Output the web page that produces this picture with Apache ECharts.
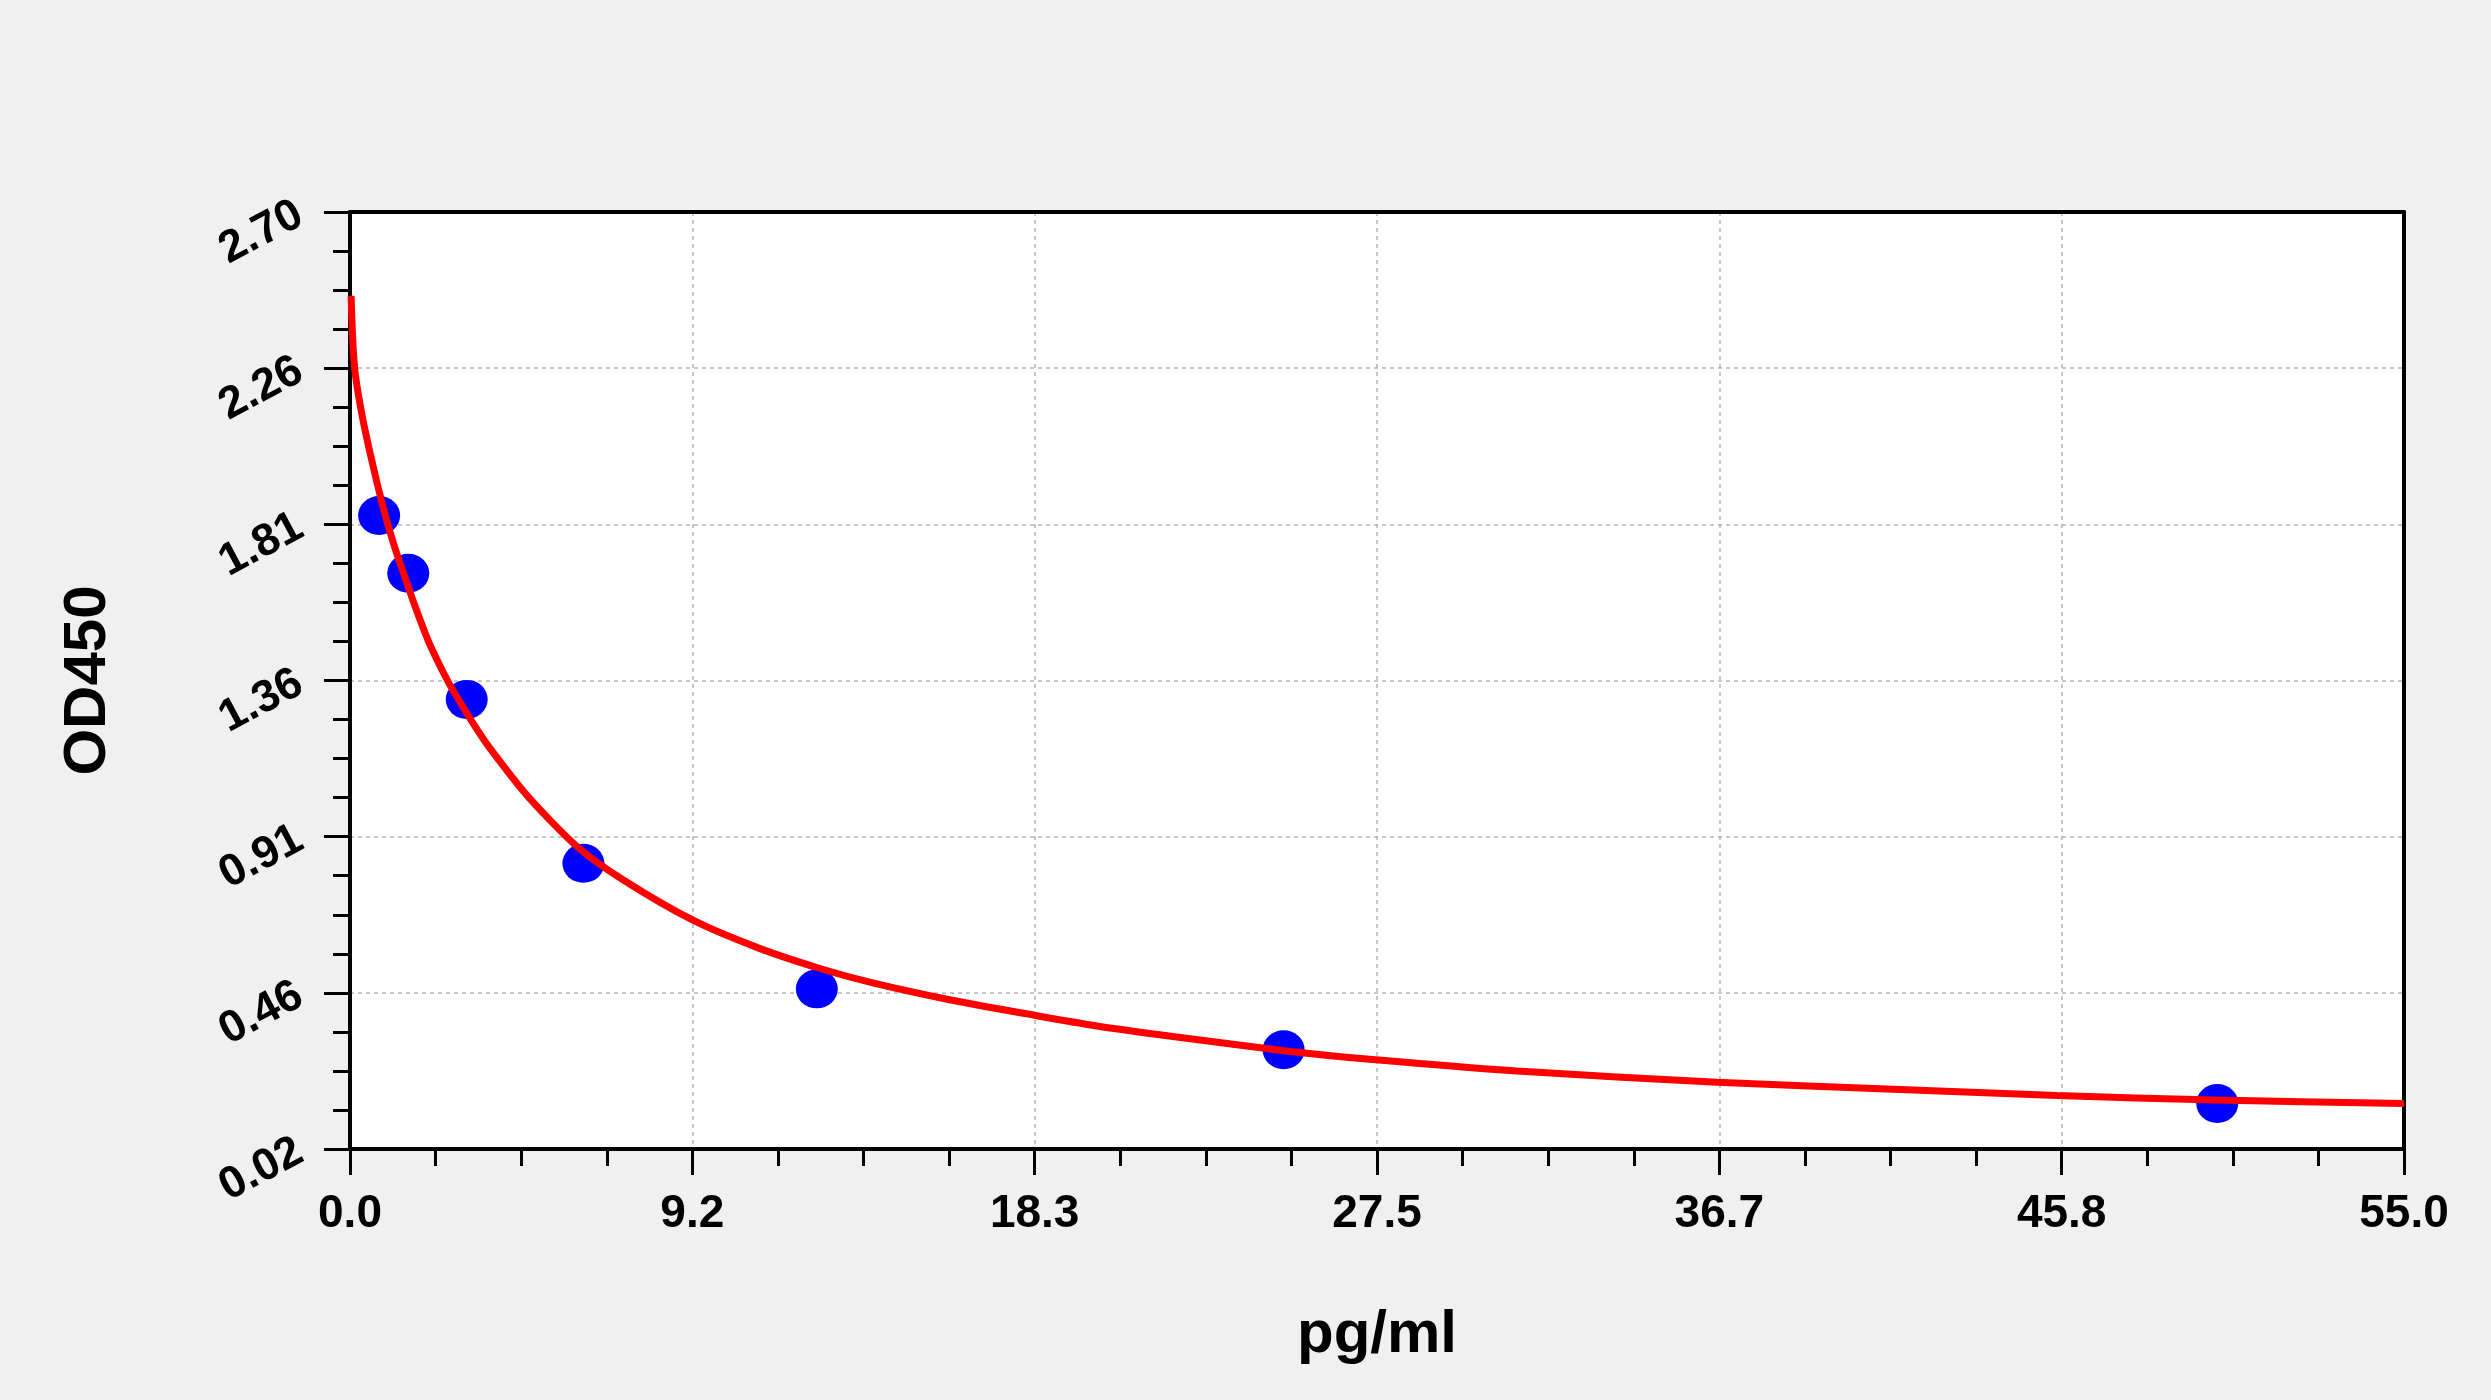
<!DOCTYPE html>
<html>
<head>
<meta charset="utf-8">
<title>OD450 standard curve</title>
<script src="https://cdn.jsdelivr.net/npm/echarts@6/dist/echarts.min.js"></script>
<style>
    html, body { margin: 0; padding: 0; background: #f0f0f0; }
    #chart { width: 2491px; height: 1400px; }
</style>
</head>
<body>
<div id="chart"></div>
<script>
// standard points (pg/ml -> OD450)
const stdConc = [0.78, 1.56, 3.125, 6.25, 12.5, 25, 50];
const stdOD = [1.832, 1.667, 1.306, 0.837, 0.478, 0.304, 0.150];

// fitted curve
const fitConc = [0.03, 0.08, 0.15, 0.33, 0.55, 0.77, 0.95, 1.20, 1.44, 1.75, 2.11, 2.61, 2.91, 3.31,
    3.72, 4.75, 6.08, 7.31, 9.17, 10.91, 12.56, 14.0, 16.05, 18.36, 20.0, 22.03, 24.95, 27.46,
    31.25, 36.6, 41.5, 45.7, 49.93, 55];
const fitOD = [2.46, 2.32, 2.23, 2.115, 2.005, 1.905, 1.83, 1.74, 1.665, 1.57, 1.47, 1.36, 1.305, 1.235,
    1.17, 1.03, 0.885, 0.79, 0.675, 0.596, 0.537, 0.495, 0.447, 0.402, 0.372, 0.342, 0.302, 0.275,
    0.243, 0.211, 0.19, 0.173, 0.16, 0.15];

// axis ticks as printed
const xTickLabels = ['0.0', '9.2', '18.3', '27.5', '36.7', '45.8', '55.0'];
const yTickLabels = ['0.02', '0.46', '0.91', '1.36', '1.81', '2.26', '2.70'];
const xMin = 0, xMax = 55;
const yMin = 0.02, yMax = 2.70;

const xStep = (xMax - xMin) / (xTickLabels.length - 1);
const yStep = (yMax - yMin) / (yTickLabels.length - 1);

const FONT = "'Liberation Sans', Arial, sans-serif";
const frameLine = { show: true, onZero: false, lineStyle: { color: '#000', width: 4 } };

const chart = echarts.init(document.getElementById('chart'));

const axisCommon = {
    type: 'value',
    axisLine: frameLine,
    axisTick: { show: true, length: 26, lineStyle: { color: '#000', width: 3 } },
    minorTick: { show: true, splitNumber: 4, length: 17, lineStyle: { color: '#000', width: 3 } },
    // min/max lines would sit on top of the black frame and make it look dashed
    splitLine: {
        show: true,
        showMinLine: false,
        showMaxLine: false,
        lineStyle: { color: '#b4b4b4', width: 1.5, type: [4, 4] },
    },
    nameLocation: 'middle',
    nameTextStyle: { fontFamily: FONT, fontWeight: 'bold', fontSize: 60, color: '#000' },
};

// top and right edges of the frame: bare axis lines, nothing else
const frameAxis = (min, max, position) => ({
    type: 'value',
    position,
    min,
    max,
    axisLine: frameLine,
    axisTick: { show: false },
    axisLabel: { show: false },
    splitLine: { show: false },
});

chart.setOption({
    backgroundColor: '#f0f0f0',
    animation: false,
    grid: {
        left: 350, right: 87, top: 212, bottom: 251,
        show: true,
        backgroundColor: '#ffffff',
        borderWidth: 0,
    },
    xAxis: [
        {
            ...axisCommon,
            min: xMin,
            max: xMax,
            interval: xStep,
            name: 'pg/ml',
            nameGap: 156,
            axisLabel: {
                margin: 42,
                fontFamily: FONT,
                fontWeight: 'bold',
                fontSize: 46,
                color: '#000',
                formatter: (v) => xTickLabels[Math.round((v - xMin) / xStep)],
            },
        },
        frameAxis(xMin, xMax, 'top'),
    ],
    yAxis: [
        {
            ...axisCommon,
            min: yMin,
            max: yMax,
            interval: yStep,
            name: 'OD450',
            nameGap: 232,
            axisLabel: {
                margin: 50,
                rotate: 28,
                fontFamily: FONT,
                fontWeight: 'bold',
                fontSize: 45,
                color: '#000',
                formatter: (v) => yTickLabels[Math.round((v - yMin) / yStep)],
            },
        },
        frameAxis(yMin, yMax, 'right'),
    ],
    series: [
        {
            type: 'scatter',
            z: 2,
            symbol: 'circle',
            symbolSize: [42, 39],
            itemStyle: { color: '#0000ff', opacity: 1 },
            data: stdConc.map((c, i) => [c, stdOD[i]]),
        },
        {
            type: 'line',
            z: 3,
            showSymbol: false,
            smooth: 0.25,
            lineStyle: { color: '#ff0000', width: 7 },
            data: fitConc.map((c, i) => [c, fitOD[i]]),
        },
    ],
});
</script>
</body>
</html>
